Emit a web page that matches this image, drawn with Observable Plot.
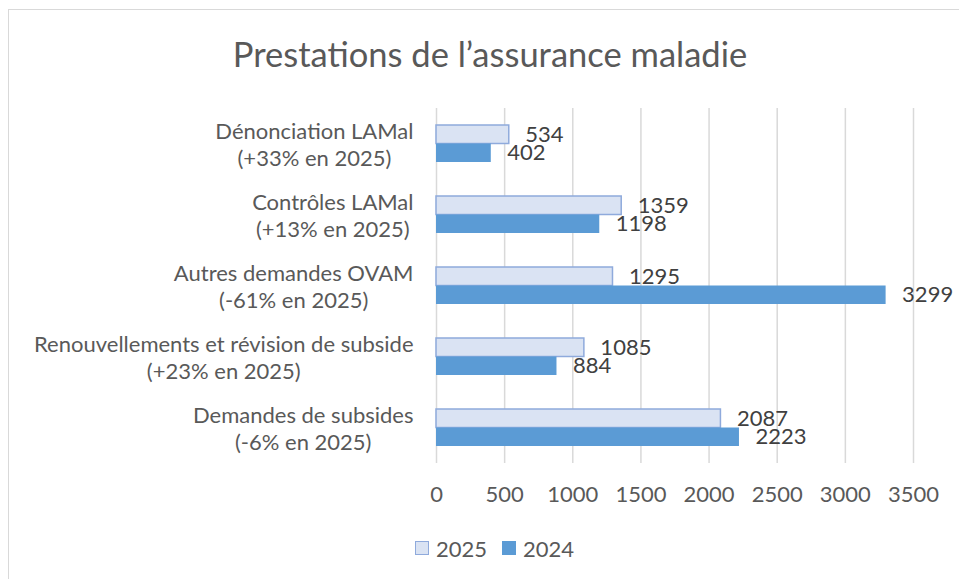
<!DOCTYPE html>
<html>
<head>
<meta charset="utf-8">
<script src="https://cdn.jsdelivr.net/npm/d3@7"></script>
<script src="https://cdn.jsdelivr.net/npm/@observablehq/plot@0.6"></script>
<style>
  html, body { margin: 0; padding: 0; background: #fff; }
  #wrap { position: relative; width: 959px; height: 579px; overflow: hidden; font-family: Lato, "Open Sans", sans-serif; }
  #frame { position: absolute; left: 8px; top: 9px; width: 1200px; height: 1200px; border-left: 1.5px solid #d9d9d9; border-top: 1.5px solid #d9d9d9; }
  #title { position: absolute; left: 0; top: 36px; width: 980px; text-align: center; font-size: 34.5px; line-height: 36px; color: #595959; }
  #chart { position: absolute; left: 0; top: 100px; }
  #legend { position: absolute; top: 536px; left: 415px; height: 24px; display: flex; align-items: center; font-size: 22px; color: #595959; }
  .sw { width: 12px; height: 12px; display: inline-block; margin-right: 7px; }
  .item { display: flex; align-items: center; margin-right: 15px; }
</style>
</head>
<body>
<div id="wrap">
  <div id="frame"></div>
  <div id="title">Prestations de l’assurance maladie</div>
  <div id="chart"></div>
  <div id="legend"></div>
</div>
<script>
const categories = [
  "Dénonciation LAMal",
  "Contrôles LAMal",
  "Autres demandes OVAM",
  "Renouvellements et révision de subside",
  "Demandes de subsides"
];
const changes = [
  "(+33% en 2025)",
  "(+13% en 2025)",
  "(-61% en 2025)",
  "(+23% en 2025)",
  "(-6% en 2025)"
];
const values2025 = [534, 1359, 1295, 1085, 2087];
const values2024 = [402, 1198, 3299, 884, 2223];
const xTicks = [0, 500, 1000, 1500, 2000, 2500, 3000, 3500];
const seriesNames = ["2025", "2024"];

const colors = {
  "2025": { fill: "#DAE3F3", stroke: "#8FAADC" },
  "2024": { fill: "#5B9BD5", stroke: "#5B9BD5" }
};

const d2025 = categories.map((c, i) => ({ cat: c, value: values2025[i] }));
const d2024 = categories.map((c, i) => ({ cat: c, value: values2024[i] }));
const subOf = new Map(categories.map((c, i) => [c, changes[i]]));

const H = 420;
const plotTop = 8, plotBottom = 57;
const band = (H - plotTop - plotBottom) / categories.length;
const barH = 18.5;
const inset = (band - barH) / 2;

const chart = Plot.plot({
  width: 959,
  height: H,
  marginTop: plotTop,
  marginBottom: plotBottom,
  marginLeft: 436,
  marginRight: 46,
  style: { color: "#595959", fontFamily: "Lato, 'Open Sans', sans-serif", background: "transparent" },
  x: { domain: [0, 3500], ticks: xTicks, label: null },
  y: { domain: categories, padding: 0, label: null },
  marks: [
    Plot.gridX(xTicks, { stroke: "#d9d9d9", strokeOpacity: 1, strokeWidth: 1.5 }),
    Plot.barX(d2025, { x: "value", y: "cat", fill: colors["2025"].fill, stroke: colors["2025"].stroke, strokeWidth: 1.5, insetTop: inset, insetBottom: inset, dy: -barH / 2 }),
    Plot.barX(d2024, { x: "value", y: "cat", fill: colors["2024"].fill, insetTop: inset, insetBottom: inset, dy: barH / 2 }),
    Plot.text(d2025, { x: "value", y: "cat", text: d => String(d.value), dx: 16, dy: -barH / 2, textAnchor: "start", fontSize: 22, fill: "#404040" }),
    Plot.text(d2024, { x: "value", y: "cat", text: d => String(d.value), dx: 16, dy: barH / 2, textAnchor: "start", fontSize: 22, fill: "#404040" }),
    Plot.axisX({ ticks: xTicks, tickSize: 0, tickPadding: 23, fontSize: 22, label: null, tickFormat: d => String(d) }),
    Plot.axisY({ tickSize: 0, tickPadding: 23, fontSize: 22, lineHeight: 1.2, label: null, tickFormat: d => d + "\n" + subOf.get(d) })
  ]
});
document.getElementById("chart").appendChild(chart);

// center the two lines of each category label on each other, keeping the block right-aligned
chart.querySelectorAll('g[aria-label="y-axis tick label"] text').forEach(t => {
  const spans = t.querySelectorAll("tspan");
  let w = 0;
  spans.forEach(s => { w = Math.max(w, s.getComputedTextLength()); });
  if (!spans.length) w = t.getComputedTextLength();
  t.setAttribute("text-anchor", "middle");
  const tr = t.getAttribute("transform") || "";
  t.setAttribute("transform", tr + ` translate(${-w / 2},0)`);
});

const legend = document.getElementById("legend");
seriesNames.forEach(n => {
  const item = document.createElement("div");
  item.className = "item";
  const sw = document.createElement("span");
  sw.className = "sw";
  sw.style.background = colors[n].fill;
  sw.style.border = "1.5px solid " + colors[n].stroke;
  const lab = document.createElement("span");
  lab.textContent = n;
  item.appendChild(sw);
  item.appendChild(lab);
  legend.appendChild(item);
});
</script>
</body>
</html>
